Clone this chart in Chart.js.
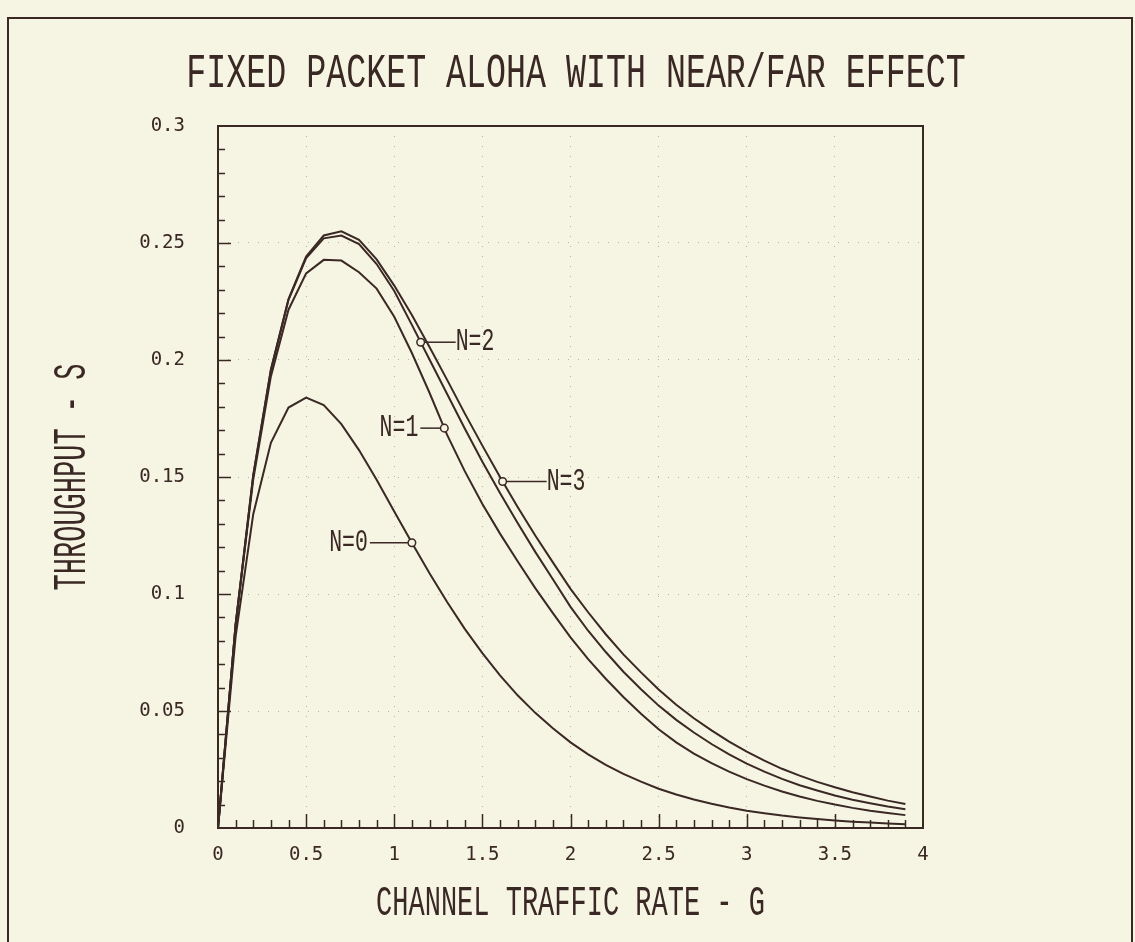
<!DOCTYPE html>
<html>
<head>
<meta charset="utf-8">
<script src="https://cdn.jsdelivr.net/npm/chart.js@4.4.0/dist/chart.umd.min.js"></script>
<style>
  html, body { margin:0; padding:0; background:#f6f4e3; overflow:hidden; }
  #frame { position:absolute; left:7px; top:17px; width:1122px; height:960px; border:2px solid #3a2824; }
  canvas { position:absolute; left:0; top:0; }
</style>
</head>
<body>
<div id="frame"></div>
<canvas id="c" width="1135" height="942"></canvas>
<script>
// channel traffic rate G
const gValues = [0, 0.1, 0.2, 0.3, 0.4, 0.5, 0.6, 0.7, 0.8, 0.9, 1.0, 1.1, 1.2, 1.3, 1.4, 1.5, 1.6, 1.7, 1.8, 1.9,
  2.0, 2.1, 2.2, 2.3, 2.4, 2.5, 2.6, 2.7, 2.8, 2.9, 3.0, 3.1, 3.2, 3.3, 3.4, 3.5, 3.6, 3.7, 3.8, 3.9];
// throughput S
const sN0 = [0, 0.0819, 0.1341, 0.1646, 0.1797, 0.1839, 0.1807, 0.1726, 0.1615, 0.1488, 0.1353, 0.1219, 0.1089, 0.0966, 0.0851, 0.0747, 0.0652, 0.0567, 0.0492, 0.0426,
  0.0366, 0.0315, 0.0270, 0.0231, 0.0198, 0.0168, 0.0143, 0.0122, 0.0104, 0.0088, 0.0074, 0.0063, 0.0053, 0.0045, 0.0038, 0.0032, 0.0027, 0.0023, 0.0019, 0.0016];
const sN1 = [0, 0.0868, 0.1490, 0.1930, 0.2215, 0.2370, 0.2428, 0.2425, 0.2375, 0.2305, 0.2185, 0.2030, 0.1860, 0.1680, 0.1525, 0.1385, 0.1258, 0.1140, 0.1025, 0.0918,
  0.0815, 0.0722, 0.0638, 0.0560, 0.0488, 0.0422, 0.0366, 0.0318, 0.0277, 0.0241, 0.0209, 0.0181, 0.0156, 0.0135, 0.0116, 0.0100, 0.0086, 0.0074, 0.0064, 0.0055];
const sN2 = [0, 0.0869, 0.1507, 0.1957, 0.2257, 0.2435, 0.2520, 0.2532, 0.2495, 0.2410, 0.2295, 0.2150, 0.2002, 0.1855, 0.1707, 0.1565, 0.1432, 0.1303, 0.1180, 0.1063,
  0.0945, 0.0843, 0.0752, 0.0668, 0.0593, 0.0523, 0.0462, 0.0408, 0.0359, 0.0315, 0.0275, 0.0241, 0.0210, 0.0183, 0.0160, 0.0139, 0.0121, 0.0106, 0.0092, 0.0080];
const sN3 = [0, 0.0870, 0.1508, 0.1958, 0.2260, 0.2442, 0.2532, 0.2550, 0.2514, 0.2430, 0.2318, 0.2192, 0.2056, 0.1915, 0.1772, 0.1634, 0.1500, 0.1372, 0.1250, 0.1135,
  0.1022, 0.0922, 0.0828, 0.0742, 0.0665, 0.0592, 0.0527, 0.0469, 0.0417, 0.0369, 0.0326, 0.0288, 0.0253, 0.0224, 0.0197, 0.0174, 0.0153, 0.0135, 0.0117, 0.0103];

const curveNames = ['N=0', 'N=1', 'N=2', 'N=3'];
const labelG = [1.1, 1.284, 1.15, 1.615];   // where each label's circle sits on its curve

const xTickValues = [0, 0.5, 1, 1.5, 2, 2.5, 3, 3.5, 4];
const xTickLabels = ['0', '0.5', '1', '1.5', '2', '2.5', '3', '3.5', '4'];
const yTickValues = [0, 0.05, 0.1, 0.15, 0.2, 0.25, 0.3];
const yTickLabels = ['0', '0.05', '0.1', '0.15', '0.2', '0.25', '0.3'];

const titleText = 'FIXED PACKET ALOHA WITH NEAR/FAR EFFECT';
const xTitle = 'CHANNEL TRAFFIC RATE - G';
const yTitle = 'THROUGHPUT - S';

const INK = '#3a2824';
const FONT = '"Liberation Mono", "DejaVu Sans Mono", monospace';
const TICKFONT = '"DejaVu Sans Mono", "Liberation Mono", monospace';
const series = [sN0, sN1, sN2, sN3];

function sAt(s, g){
  for (let i = 0; i < gValues.length - 1; i++) {
    if (g >= gValues[i] && g <= gValues[i+1]) {
      const t = (g - gValues[i]) / (gValues[i+1] - gValues[i]);
      return s[i] + t * (s[i+1] - s[i]);
    }
  }
  return s[s.length-1];
}

function stretchText(ctx, text, x, y, size, sy, rot){
  ctx.save();
  ctx.translate(x, y);
  if (rot) ctx.rotate(rot);
  ctx.scale(1, sy);
  ctx.font = size + 'px ' + FONT;
  ctx.fillText(text, 0, 0);
  ctx.restore();
}

const plotterPlugin = {
  id: 'plotter',
  afterDraw(chart){
    const {ctx, chartArea:a, scales:{x, y}} = chart;
    ctx.save();
    ctx.strokeStyle = INK; ctx.fillStyle = INK;
    // plot box
    ctx.lineWidth = 2;
    ctx.strokeRect(a.left, a.top, a.right - a.left, a.bottom - a.top);
    // inward ticks
    ctx.lineWidth = 1.5;
    ctx.beginPath();
    for (let i = 1; i < 40; i++) {
      const px = Math.round(x.getPixelForValue(i / 10)) + 0.5;
      const len = i % 5 === 0 ? 14 : 8;
      ctx.moveTo(px, a.bottom); ctx.lineTo(px, a.bottom - len);
    }
    for (let i = 1; i < 30; i++) {
      const py = Math.round(y.getPixelForValue(i / 100)) + 0.5;
      const len = i % 5 === 0 ? 13 : 7;
      ctx.moveTo(a.left, py); ctx.lineTo(a.left + len, py);
    }
    ctx.stroke();

    // curve labels with leader lines and open circles
    const lead = [-42, -24, 35, 44];
    ctx.lineWidth = 1.5;
    curveNames.forEach((name, k) => {
      const cx = x.getPixelForValue(labelG[k]);
      const cy = y.getPixelForValue(sAt(series[k], labelG[k]));
      const tx = cx + lead[k];
      ctx.beginPath(); ctx.moveTo(cx + (lead[k] < 0 ? -4 : 4), cy); ctx.lineTo(tx, cy); ctx.stroke();
      ctx.beginPath(); ctx.arc(cx, cy, 3.8, 0, Math.PI * 2);
      ctx.fillStyle = '#f6f4e3'; ctx.fill(); ctx.stroke();
      ctx.fillStyle = INK;
      ctx.textAlign = lead[k] < 0 ? 'right' : 'left';
      ctx.textBaseline = 'middle';
      stretchText(ctx, name, lead[k] < 0 ? tx - 2 : tx, cy, 21.5, 1.42);
    });

    // titles
    ctx.textAlign = 'center'; ctx.textBaseline = 'middle';
    stretchText(ctx, titleText, 576, 74, 33.3, 1.42);
    stretchText(ctx, xTitle, (a.left + a.right) / 2, 904, 27, 1.6);
    stretchText(ctx, yTitle, 73, (a.top + a.bottom) / 2, 27, 1.7, -Math.PI / 2);
    ctx.restore();
  }
};

const datasets = series.map((s, k) => ({
  label: curveNames[k],
  data: gValues.map((g, i) => ({x: g, y: s[i]})),
  borderColor: INK,
  borderWidth: 2,
  pointRadius: 0,
  tension: 0,
  fill: false
}));

new Chart(document.getElementById('c'), {
  type: 'line',
  data: { datasets },
  options: {
    responsive: false,
    animation: false,
    devicePixelRatio: 1,
    layout: { padding: { left: 0, right: 212, top: 126, bottom: 0 } },
    plugins: { legend: { display: false }, title: { display: false }, tooltip: { enabled: false } },
    scales: {
      x: {
        type: 'linear', min: 0, max: 4,
        afterFit: s => { s.height = 114; },
        afterBuildTicks: s => { s.ticks = xTickValues.map(v => ({value: v})); },
        ticks: { callback: (v, i) => xTickLabels[i], color: INK, padding: 16, maxRotation: 0,
                 font: { family: TICKFONT, size: 19 } },
        grid: { color: 'rgba(58,40,36,0.32)', lineWidth: 1, drawTicks: false },
        border: { display: false, dash: [1, 9] }
      },
      y: {
        type: 'linear', min: 0, max: 0.3,
        afterFit: s => { s.width = 218; },
        afterBuildTicks: s => { s.ticks = yTickValues.map(v => ({value: v})); },
        ticks: { callback: (v, i) => yTickLabels[i], color: INK, padding: 33,
                 font: { family: TICKFONT, size: 19 } },
        grid: { color: 'rgba(58,40,36,0.32)', lineWidth: 1, drawTicks: false },
        border: { display: false, dash: [1, 9] }
      }
    }
  },
  plugins: [plotterPlugin]
});
</script>
</body>
</html>
